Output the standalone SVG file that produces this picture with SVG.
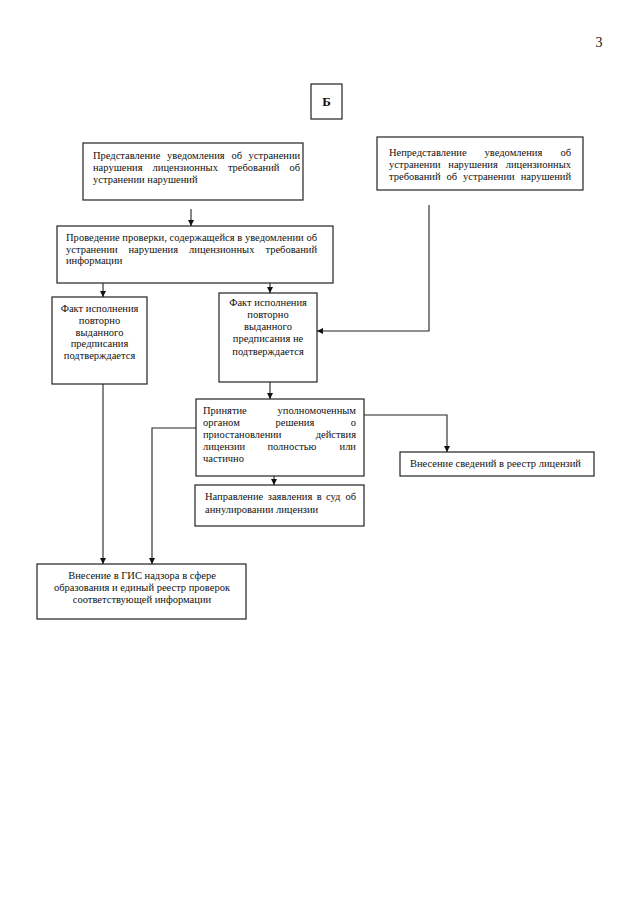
<svg xmlns="http://www.w3.org/2000/svg" width="640" height="905" viewBox="0 0 640 905">
<style>
.box{fill:#fff;stroke:#222;stroke-width:1.2}
.t{font-family:"Liberation Serif","Times New Roman",serif;font-size:10.5px;fill:#111}
.c{text-anchor:middle}
.e{text-anchor:end}
.ln{fill:none;stroke:#222;stroke-width:1.1}
</style>
<defs>
<marker id="ah" viewBox="0 0 8 8" refX="8" refY="4" markerWidth="6" markerHeight="6" orient="auto" markerUnits="userSpaceOnUse">
<path d="M0,0 L8,4 L0,8 z" fill="#111"/>
</marker>
</defs>
<rect width="640" height="905" fill="#fff"/>
<text x="599" y="47" class="t" style="font-size:14px" text-anchor="middle">3</text>

<g id="nodeB">
<rect class="box" x="311" y="84" width="31" height="35"/>
<text x="326.5" y="106" class="t c" style="font-size:13px;font-weight:bold">Б</text>
</g>

<g id="node1">
<rect class="box" x="83" y="143" width="220" height="57"/>
<text class="t" y="158.5"><tspan x="93">Представление</tspan><tspan x="167">уведомления</tspan><tspan x="231.6">об</tspan><tspan x="248.5">устранении</tspan></text>
<text class="t" y="170.5"><tspan x="93">нарушения</tspan><tspan x="152.6">лицензионных</tspan><tspan x="227.9">требований</tspan></text>
<text class="t e" x="300" y="170.5">об</text>
<text class="t" x="93" y="182.5">устранении нарушений</text>
</g>

<g id="node2">
<rect class="box" x="377" y="137" width="206" height="53"/>
<text class="t" y="156"><tspan x="389">Непредставление</tspan><tspan x="484.6">уведомления</tspan></text>
<text class="t e" x="571" y="156">об</text>
<text class="t" y="168"><tspan x="389">устранении</tspan><tspan x="448.3">нарушения</tspan></text>
<text class="t e" x="571" y="168">лицензионных</text>
<text class="t" y="180"><tspan x="389">требований</tspan><tspan x="446.5">об</tspan><tspan x="463">устранении</tspan></text>
<text class="t e" x="571" y="180">нарушений</text>
</g>

<g id="node3">
<rect class="box" x="57" y="226" width="276" height="57"/>
<text class="t" x="66" y="241" textLength="251" lengthAdjust="spacing">Проведение проверки, содержащейся в уведомлении об</text>
<text class="t" y="252.5"><tspan x="66">устранении</tspan><tspan x="128.5">нарушения</tspan><tspan x="189.1">лицензионных</tspan></text>
<text class="t e" x="317" y="252.5">требований</text>
<text class="t" x="66" y="264">информации</text>
</g>

<g id="node4">
<rect class="box" x="52" y="297" width="95" height="87"/>
<text class="t c" x="99.5" y="312">Факт исполнения</text>
<text class="t c" x="99.5" y="324">повторно</text>
<text class="t c" x="99.5" y="335.5">выданного</text>
<text class="t c" x="99.5" y="347">предписания</text>
<text class="t c" x="99.5" y="359">подтверждается</text>
</g>

<g id="node5">
<rect class="box" x="219" y="293" width="98" height="89"/>
<text class="t c" x="268" y="306">Факт исполнения</text>
<text class="t c" x="268" y="318">повторно</text>
<text class="t c" x="268" y="330">выданного</text>
<text class="t c" x="268" y="342">предписания не</text>
<text class="t c" x="268" y="354.5">подтверждается</text>
</g>

<g id="node6">
<rect class="box" x="196" y="399" width="168" height="77"/>
<text class="t" x="203" y="414">Принятие</text>
<text class="t e" x="356" y="414">уполномоченным</text>
<text class="t" y="426"><tspan x="203">органом</tspan><tspan x="275.5">решения</tspan></text>
<text class="t e" x="356" y="426">о</text>
<text class="t" x="203" y="438">приостановлении</text>
<text class="t e" x="356" y="438">действия</text>
<text class="t" y="450"><tspan x="203">лицензии</tspan><tspan x="267.4">полностью</tspan></text>
<text class="t e" x="356" y="450">или</text>
<text class="t" x="203" y="462">частично</text>
</g>

<g id="node7">
<rect class="box" x="400" y="452" width="194" height="24"/>
<text class="t" x="410" y="466.5">Внесение сведений в реестр лицензий</text>
</g>

<g id="node8">
<rect class="box" x="195" y="485" width="169" height="41"/>
<text class="t" y="500"><tspan x="205">Направление</tspan><tspan x="267.8">заявления</tspan><tspan x="316.7">в</tspan><tspan x="326">суд</tspan></text>
<text class="t e" x="356" y="500">об</text>
<text class="t" x="205" y="513">аннулировании лицензии</text>
</g>

<g id="node9">
<rect class="box" x="37" y="564" width="209" height="55"/>
<text class="t c" x="142" y="578.5">Внесение в ГИС надзора в сфере</text>
<text class="t c" x="142" y="590.5">образования и единый реестр проверок</text>
<text class="t c" x="142" y="602.5">соответствующей информации</text>
</g>

<g id="connectors">
<path class="ln" d="M191,209 V226" marker-end="url(#ah)"/>
<path class="ln" d="M103,283 V297" marker-end="url(#ah)"/>
<path class="ln" d="M270,283 V293" marker-end="url(#ah)"/>
<path class="ln" d="M429,205 V331 H317" marker-end="url(#ah)"/>
<path class="ln" d="M103,384 V564" marker-end="url(#ah)"/>
<path class="ln" d="M270,382 V399" marker-end="url(#ah)"/>
<path class="ln" d="M364,415 H447 V452" marker-end="url(#ah)"/>
<path class="ln" d="M274,476 V485" marker-end="url(#ah)"/>
<path class="ln" d="M196,428 H152 V564" marker-end="url(#ah)"/>
</g>
</svg>
